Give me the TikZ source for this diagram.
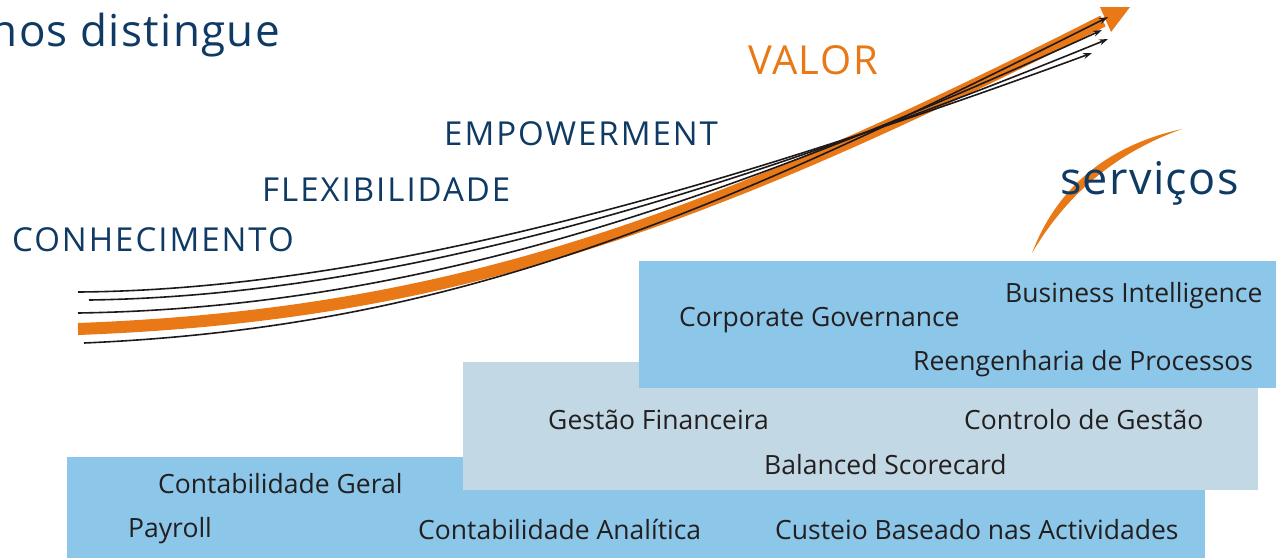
\documentclass[tikz,border=0pt]{standalone}
\usepackage{fontspec}
\setmainfont{Open Sans}
\newfontfamily\capsfont[LetterSpace=6]{Open Sans}
\newfontfamily\valorfont[LetterSpace=4]{Open Sans}
\newfontfamily\titlefont[LetterSpace=3]{Open Sans}
\usetikzlibrary{arrows.meta}
\definecolor{boxblue}{HTML}{8CC7E9}
\definecolor{boxgrey}{HTML}{C2D8E4}
\definecolor{orng}{HTML}{E97817}
\definecolor{navy}{HTML}{0E3A63}
\definecolor{darktxt}{HTML}{231F20}
\definecolor{blk}{HTML}{1E1A1B}
\tikzset{
  boxtxt/.style={anchor=base west, inner sep=0pt, text=darktxt, font=\fontsize{26.5}{26.5}\selectfont},
  cattxt/.style={anchor=base west, inner sep=0pt, text=navy, font=\capsfont\fontsize{33}{33}\selectfont},
  thinarrow/.style={draw=blk, line width=1.6pt, -{Stealth[length=9pt,width=6pt]}},
}
\begin{document}
\begin{tikzpicture}[x=1pt,y=-1pt]
\useasboundingbox (0,0) rectangle (1276,558);
\clip (0,0) rectangle (1276,558);
% boxes
\fill[boxblue] (67,457) rectangle (1205,558);
\fill[boxgrey] (463,362) rectangle (1258,490);
\fill[boxblue] (639,261) rectangle (1276,388);
% box texts
\node[boxtxt] (bi) at (1005,302) {Business Intelligence};
\node[boxtxt] (cg) at (679,326) {Corporate Governance};
\node[boxtxt] (rp) at (913,370) {Reengenharia de Processos};
\node[boxtxt] (gf) at (548,429) {Gestão Financeira};
\node[boxtxt] (cdg) at (964,429) {Controlo de Gestão};
\node[boxtxt] (bs) at (764,474) {Balanced Scorecard};
\node[boxtxt] (cgl) at (158,493) {Contabilidade Geral};
\node[boxtxt] (pay) at (128,537) {Payroll};
\node[boxtxt] (ca) at (418,539) {Contabilidade Analítica};
\node[boxtxt] (cba) at (775,539) {Custeio Baseado nas Actividades};
% title
\node[anchor=base east, inner sep=0pt, text=navy, font=\titlefont\fontsize{44}{44}\selectfont] (title) at (280,46) {nos distingue};
% category labels
\node[cattxt] (conh) at (12,251) {CONHECIMENTO};
\node[cattxt] (flex) at (262,201) {FLEXIBILIDADE};
\node[cattxt] (emp) at (444,145) {EMPOWERMENT};
\node[anchor=base west, inner sep=0pt, text=orng, font=\valorfont\fontsize{40}{40}\selectfont] (valor) at (748,74) {VALOR};
% orange main arrow
\coordinate (os) at (78,329);
\coordinate (oe) at (1103,21);
\draw[orng, line width=12pt] (os) .. controls (450,315) and (700,225) .. (oe);
\fill[orng] (1100,7) -- (1130,7) -- (1111,32) -- cycle;
% black arrows
\coordinate (as) at (78,292);   \coordinate (ae) at (1092,53);
\coordinate (bs0) at (89,300);  \coordinate (be) at (1108,39);
\coordinate (cs) at (78,313);   \coordinate (ce) at (1102,30);
\coordinate (ds) at (84,343);   \coordinate (de) at (1108,17);
\draw[thinarrow] (as) .. controls (350,290) and (680,205) .. (ae);
\draw[thinarrow] (bs0) .. controls (370,296) and (690,210) .. (be);
\draw[thinarrow] (cs) .. controls (400,308) and (700,214) .. (ce);
\draw[thinarrow] (ds) .. controls (450,327) and (700,222) .. (de);
% servicos swoosh
\fill[orng] (1032,253) .. controls (1058,185) and (1110,145) .. (1182,129)
  .. controls (1118,152) and (1068,192) .. (1032,253) -- cycle;
\node[anchor=base west, inner sep=0pt, text=navy, font=\titlefont\fontsize{45}{45}\selectfont] (serv) at (1060,194) {serviços};
\end{tikzpicture}
\end{document}
